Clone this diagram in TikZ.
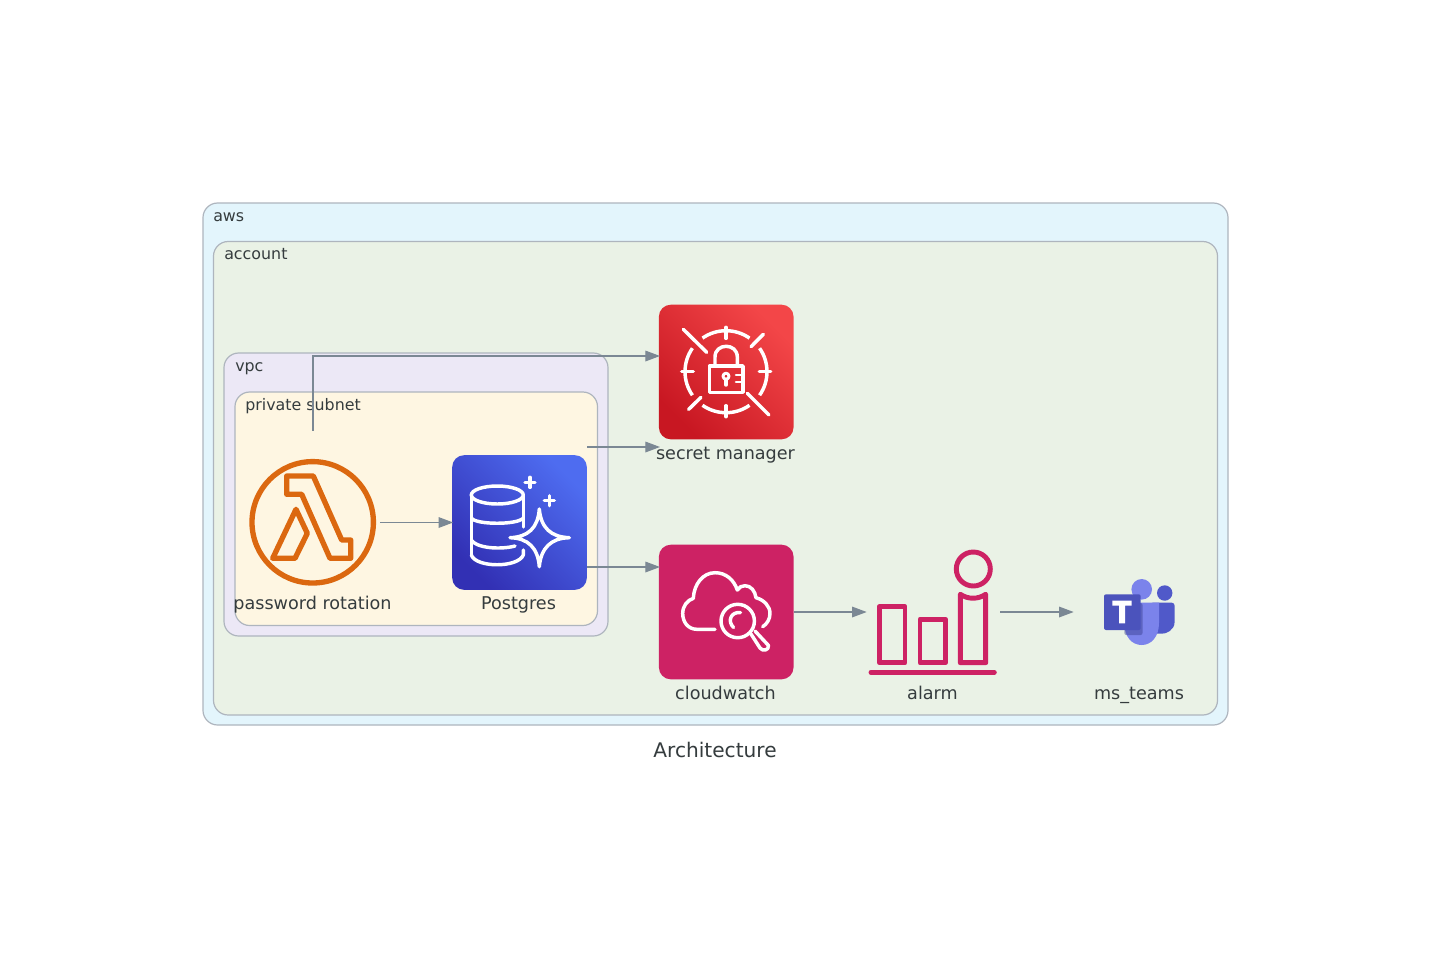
\documentclass[tikz,border=0pt]{standalone}
\usepackage{fontspec}
\setmainfont{DejaVu Sans}
\usetikzlibrary{arrows.meta}

\definecolor{inktext}{HTML}{353C3E}
\definecolor{edgeline}{HTML}{7B8894}
\definecolor{clusterline}{HTML}{AEB5BE}
\definecolor{awsfill}{HTML}{E3F5FC}
\definecolor{accountfill}{HTML}{EAF2E6}
\definecolor{vpcfill}{HTML}{ECE8F6}
\definecolor{subnetfill}{HTML}{FEF6E2}
\definecolor{lambdaorange}{HTML}{DB6810}
\definecolor{watchpink}{HTML}{CD2264}
\definecolor{teamsdark}{HTML}{5059C9}
\definecolor{teamslight}{HTML}{7B83EB}
\definecolor{teamssquare}{HTML}{4B53BC}
\definecolor{dbhigh}{HTML}{4E6CF0}
\definecolor{dblow}{HTML}{3230B4}
\definecolor{secrethigh}{HTML}{F34648}
\definecolor{secretlow}{HTML}{C81722}

\tikzset{
  cluster/.style={draw=clusterline, line width=0.9pt, rounded corners=11pt},
  clusterlabel/.style={anchor=base west, inner sep=0pt, text=inktext, font=\fontsize{11.9}{15}\selectfont},
  nodelabel/.style={anchor=base, inner sep=0pt, text=inktext, font=\fontsize{13.2}{16}\selectfont},
  iconbox/.style={minimum size=101pt, inner sep=0pt, outer sep=0pt},
  tile/.style={iconbox, rounded corners=9pt},
  conn/.style={edgeline, line width=0.9pt, shorten >=-0.75pt, -{Triangle[length=11pt,width=8pt]}},
  glyph/.style={white, line width=2.6pt, line join=round, line cap=round},
  pinkglyph/.style={watchpink, line width=3.7pt, line join=round},
  orangeglyph/.style={lambdaorange, line width=4pt, line join=round}
}

\begin{document}
\begin{tikzpicture}[x=0.75pt,y=-0.75pt]
    \useasboundingbox (0,0) rectangle (1431,961);

    % Clusters
    \fill[white] (0,0) rectangle (1431,961);
    \draw[cluster, fill=awsfill] (203,203) rectangle (1228,725);
    \draw[cluster, fill=accountfill] (213.5,241.5) rectangle (1217.5,715);
    \draw[cluster, fill=vpcfill] (224,353) rectangle (608,636);
    \draw[cluster, fill=subnetfill] (235,392) rectangle (597.5,625.5);

    % Cluster labels
    \node[clusterlabel] (awslabel) at (213,221) {aws};
    \node[clusterlabel] (accountlabel) at (224,259) {account};
    \node[clusterlabel] (vpclabel) at (235,371) {vpc};
    \node[clusterlabel] (subnetlabel) at (245,410) {private subnet};

    % Icon boxes
    \node[iconbox] (rotation) at (313,522.5) {};
    \node[tile, top color=dbhigh, bottom color=dblow, shading angle=-45] (postgres) at (519.5,522.5) {};
    \node[tile, top color=secrethigh, bottom color=secretlow, shading angle=-45] (secret) at (726.2,372) {};
    \node[tile, fill=watchpink] (cloudwatch) at (726.2,612) {};
    \node[iconbox] (alarm) at (933,612) {};
    \node[iconbox] (teams) at (1140,612) {};

    % Lambda
    \draw[orangeglyph] (312.7,522.3) circle (60.7);
    \draw[orangeglyph] (286.7,476) -- (313.3,476) -- (341.7,540) -- (350.7,540) -- (350.7,558.3) -- (330,558.3) -- (301.7,494.3) -- (286.7,494.3) -- cycle;
    \draw[orangeglyph] (296,509.3) -- (307.3,533.3) -- (295,558.3) -- (272.7,558.3) -- cycle;

    % Database and star
    \draw[glyph] (497.3,495) ellipse (26 and 9);
    \draw[glyph] (471.3,495) -- (471.3,555);
    \draw[glyph] (523.3,495) -- (523.3,527);
    \draw[glyph] (471.3,518) .. controls (476,525) and (518,525) .. (523.3,518);
    \draw[glyph] (471.3,540) .. controls (476,548) and (500,550) .. (515,546);
    \draw[glyph] (471.3,555) .. controls (476,568) and (518,568) .. (523.3,555) -- (523.3,550);
    \draw[glyph] (539.3,509) .. controls (541,528) and (551,537) .. (569.3,537.7) .. controls (551,538) and (541,548) .. (539.3,566.7) .. controls (538,548) and (528,538) .. (510,537.7) .. controls (528,537) and (538,528) .. cycle;
    \draw[glyph] (525,482.3) -- (535,482.3);
    \draw[glyph] (530,477.3) -- (530,487.3);
    \draw[glyph] (544.3,500.7) -- (554.3,500.7);
    \draw[glyph] (549.3,495.7) -- (549.3,505.7);

    % Secret manager
    \draw[glyph, line cap=butt] (726,371.7) ++(-125:41) arc (-125:-55:41);
    \draw[glyph, line cap=butt] (726,371.7) ++(-35:41) arc (-35:35:41);
    \draw[glyph, line cap=butt] (726,371.7) ++(55:41) arc (55:125:41);
    \draw[glyph, line cap=butt] (726,371.7) ++(145:41) arc (145:215:41);
    \draw[glyph] (726,327.3) -- (726,338.3);
    \draw[glyph] (726,405.7) -- (726,416.7);
    \draw[glyph] (681.7,371.7) -- (693.3,371.7);
    \draw[glyph] (759.3,371.7) -- (770.7,371.7);
    \draw[glyph] (683.3,329.3) -- (706.7,352.3);
    \draw[glyph] (763.3,334.3) -- (751,346.7);
    \draw[glyph] (701,397.3) -- (688.7,409.3);
    \draw[glyph] (747.3,393.3) -- (769,415);
    \draw[glyph] (709.5,366) rectangle (743,392.3);
    \draw[glyph] (715,366) -- (715,357) .. controls (715,342.7) and (737.3,342.7) .. (737.3,357) -- (737.3,366);
    \draw[glyph, line width=2.2pt] (726,376.2) circle (3);
    \draw[glyph] (726,380) -- (726,385);
    \draw[glyph, line width=2pt] (736,375) -- (743,375);
    \draw[glyph, line width=2pt] (736,382) -- (743,382);

    % Cloud with magnifier
    \draw[glyph] (715,629.3) -- (697,629.3) .. controls (688,629.3) and (682.7,622) .. (682.7,613.5) .. controls (682.7,606) and (687,600.5) .. (693.3,598.3) .. controls (694,584) and (703,572.7) .. (715,572.7) .. controls (726,572.7) and (734,580) .. (737.3,590) .. controls (739,587) and (742,585.7) .. (745,585.7) .. controls (751,585.7) and (755,591) .. (756,597.7) .. controls (764,600) and (770,606) .. (770,613.5) .. controls (770,619) and (767,624) .. (762.7,626.7);
    \draw[glyph] (737.7,621) circle (16.7);
    \draw[glyph] (733.5,627.5) .. controls (727,621) and (731,611.5) .. (740.5,612.5);
    \draw[glyph] (751,634) -- (760,648) .. controls (763,652) and (769,650) .. (768.5,645.5) -- (755,631);

    % Alarm
    \draw[pinkglyph] (973.3,569) circle (17);
    \draw[pinkglyph] (879.3,606.7) rectangle (905,662.7);
    \draw[pinkglyph] (920,619.3) rectangle (945.7,662.7);
    \draw[pinkglyph] (960.3,594.3) .. controls (968,599.5) and (978,599.5) .. (985.7,594.3) -- (985.7,662.7) -- (960.3,662.7) -- cycle;
    \draw[pinkglyph, line cap=round] (871,672.3) -- (994.3,672.3);

    % Teams
    \fill[teamsdark] (1164.7,593) circle (7.7);
    \fill[teamsdark, rounded corners=2pt] (1150,602.7) -- (1174.5,602.7) -- (1174.5,620) .. controls (1174.5,630) and (1166,634) .. (1159,633.5) -- (1150,633.5) -- cycle;
    \fill[teamslight] (1141.7,589.3) circle (10.3);
    \fill[teamslight] (1124.3,602.7) -- (1159,602.7) -- (1159,623) .. controls (1159,637) and (1151,645) .. (1141.7,645) .. controls (1132,645) and (1124.3,637) .. (1124.3,623) -- cycle;
    \fill[teamssquare!75!black, opacity=0.45, rounded corners=1.5pt] (1124.3,603) rectangle (1142.5,635);
    \fill[teamssquare, rounded corners=1.5pt] (1104,594.3) rectangle (1140.7,630);
    \fill[white] (1112.3,600.7) -- (1131.7,600.7) -- (1131.7,605.7) -- (1125,605.7) -- (1125,623.3) -- (1119,623.3) -- (1119,605.7) -- (1112.3,605.7) -- cycle;

    % Labels
    \node[nodelabel] (rotationlabel) at (312.5,609) {password rotation};
    \node[nodelabel] (postgreslabel) at (518.5,609) {Postgres};
    \node[nodelabel] (secretlabel) at (725.5,459) {secret manager};
    \node[nodelabel] (cloudwatchlabel) at (725.5,699) {cloudwatch};
    \node[nodelabel] (alarmlabel) at (932.5,699) {alarm};
    \node[nodelabel] (teamslabel) at (1139,699) {ms\_teams};
    \node[anchor=base, inner sep=0pt, text=inktext, font=\fontsize{15.1}{18}\selectfont] (title) at (715,757) {Architecture};

    % Free ends of the connectors
    \coordinate (rotationup) at (313,430.5);
    \coordinate (secretupper) at (659,356);
    \coordinate (secretlower) at (659,447);
    \coordinate (postgresupper) at (587,447);
    \coordinate (postgreslower) at (587,567);
    \coordinate (cloudwatchupper) at (659,567);

    % Connectors
    \draw[conn] (rotation.east) -- (postgres.west);
    \draw[conn] (rotationup) |- (secretupper);
    \draw[conn] (postgresupper) -- (secretlower);
    \draw[conn] (postgreslower) -- (cloudwatchupper);
    \draw[conn] (cloudwatch.east) -- (alarm.west);
    \draw[conn] (alarm.east) -- (teams.west);
\end{tikzpicture}
\end{document}
